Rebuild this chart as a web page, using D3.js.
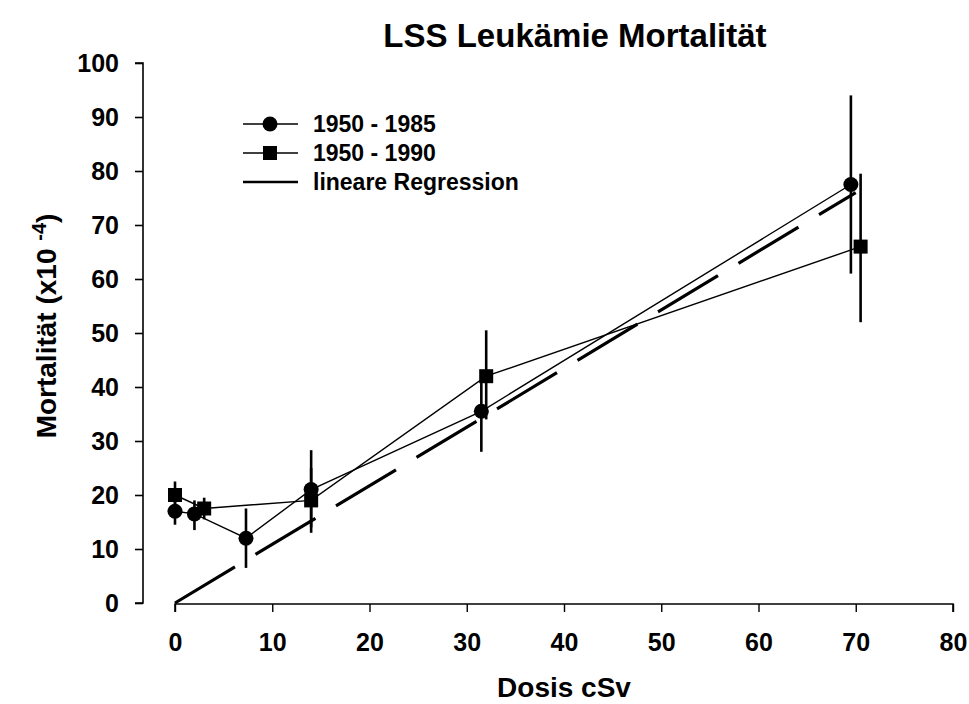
<!DOCTYPE html>
<html>
<head>
<meta charset="utf-8">
<script src="https://cdn.jsdelivr.net/npm/d3@7"></script>
<style>
  html, body { margin: 0; padding: 0; background: #fff; }
  svg text { font-family: "Liberation Sans", Arial, sans-serif; font-weight: bold; fill: #000; }
</style>
</head>
<body>
<svg id="chart" width="969" height="704"></svg>
<script>
// ---- data ----
const titleText = "LSS Leukämie Mortalität";
const xLabel = "Dosis cSv";
const xTicks = [0, 10, 20, 30, 40, 50, 60, 70, 80];
const yTicks = [0, 10, 20, 30, 40, 50, 60, 70, 80, 90, 100];

const seriesNames = ["1950 - 1985", "1950 - 1990", "lineare Regression"];

const dose85 = [0, 2, 7.3, 14, 31.5, 69.5];
const mort85 = [17, 16.5, 12, 21, 35.5, 77.5];
const lo85   = [14.5, 13.5, 6.5, 14, 28, 61];
const hi85   = [21, 19, 17.5, 28.3, 43, 94];

const dose90 = [0, 3, 14, 32, 70.5];
const mort90 = [20, 17.5, 19, 42, 66];
const lo90   = [17.5, 15.5, 13, 34, 52];
const hi90   = [22.5, 19.5, 25, 50.5, 79.5];

const regDose = [0, 70];
const regMort = [0, 76];

// ---- layout ----
const svg = d3.select("#chart");
const x = d3.scaleLinear().domain([0, 80]).range([175, 953]);
const y = d3.scaleLinear().domain([0, 100]).range([603, 63]);
const tickFont = "25px";

// title
svg.append("text").attr("x", 575).attr("y", 47).attr("text-anchor", "middle")
  .style("font-size", "33px").text(titleText);

// y axis (offset to the left)
const yAxis = svg.append("g").attr("transform", "translate(143,0)")
  .call(d3.axisLeft(y).tickValues(yTicks).tickSize(8).tickPadding(16).tickFormat(d3.format("d")));
yAxis.select(".domain").attr("d", `M-8,${y(100)}H0V${y(0)}H-8`).attr("stroke", "#000").attr("stroke-width", 1.6);
yAxis.selectAll(".tick line").attr("stroke", "#000").attr("stroke-width", 1.6);
yAxis.selectAll("text").style("font-size", tickFont).style("font-family", "'Liberation Sans', Arial, sans-serif").style("font-weight", "bold");

// x axis
const xAxis = svg.append("g").attr("transform", "translate(0,604)")
  .call(d3.axisBottom(x).tickValues(xTicks).tickSize(8).tickPadding(21).tickFormat(d3.format("d")));
xAxis.select(".domain").attr("d", `M${x(0)},8V0H${x(80)}V8`).attr("stroke", "#000").attr("stroke-width", 1.6);
xAxis.selectAll(".tick line").attr("stroke", "#000").attr("stroke-width", 1.4);
xAxis.selectAll("text").style("font-size", tickFont).style("font-family", "'Liberation Sans', Arial, sans-serif").style("font-weight", "bold");

// axis titles
svg.append("text").attr("x", 564).attr("y", 697).attr("text-anchor", "middle")
  .style("font-size", "28px").text(xLabel);
const yl = svg.append("text").attr("transform", "translate(56,326) rotate(-90)")
  .attr("text-anchor", "middle").style("font-size", "28px");
yl.append("tspan").text("Mortalität (x10 ");
yl.append("tspan").attr("dy", -10).style("font-size", "20px").text("-4");
yl.append("tspan").attr("dy", 10).text(")");

const plot = svg.append("g");

// regression (dashed)
const regData = regDose.map((d, i) => [d, regMort[i]]);
plot.append("path").datum(regData)
  .attr("d", d3.line().x(d => x(d[0])).y(d => y(d[1])))
  .attr("fill", "none").attr("stroke", "#000").attr("stroke-width", 3.2)
  .attr("stroke-dasharray", "70,24");

// series lines
const s85 = dose85.map((d, i) => ({x: d, y: mort85[i], lo: lo85[i], hi: hi85[i]}));
const s90 = dose90.map((d, i) => ({x: d, y: mort90[i], lo: lo90[i], hi: hi90[i]}));
const line = d3.line().x(d => x(d.x)).y(d => y(d.y));
[s85, s90].forEach(s => {
  plot.append("path").datum(s).attr("d", line)
    .attr("fill", "none").attr("stroke", "#000").attr("stroke-width", 1.4);
});

// error bars
[s85, s90].forEach(s => {
  plot.selectAll(null).data(s).enter().append("line")
    .attr("x1", d => x(d.x)).attr("x2", d => x(d.x))
    .attr("y1", d => y(d.lo)).attr("y2", d => y(d.hi))
    .attr("stroke", "#000").attr("stroke-width", 2.6);
});

// markers
plot.selectAll(null).data(s85).enter().append("circle")
  .attr("cx", d => x(d.x)).attr("cy", d => y(d.y)).attr("r", 7.5).attr("fill", "#000");
plot.selectAll(null).data(s90).enter().append("rect")
  .attr("x", d => x(d.x) - 7).attr("y", d => y(d.y) - 7)
  .attr("width", 14).attr("height", 14).attr("fill", "#000");

// legend
const legY = [124, 153, 182];
const lg = svg.append("g");
seriesNames.forEach((name, i) => {
  lg.append("line").attr("x1", 243).attr("x2", 298).attr("y1", legY[i]).attr("y2", legY[i])
    .attr("stroke", "#000").attr("stroke-width", i === 2 ? 2.6 : 1.4);
  if (i === 0) lg.append("circle").attr("cx", 270).attr("cy", legY[i]).attr("r", 7.5).attr("fill", "#000");
  if (i === 1) lg.append("rect").attr("x", 263).attr("y", legY[i] - 7).attr("width", 14).attr("height", 14).attr("fill", "#000");
  lg.append("text").attr("x", 313).attr("y", legY[i] + 8).style("font-size", "23px").text(name);
});
</script>
</body>
</html>
